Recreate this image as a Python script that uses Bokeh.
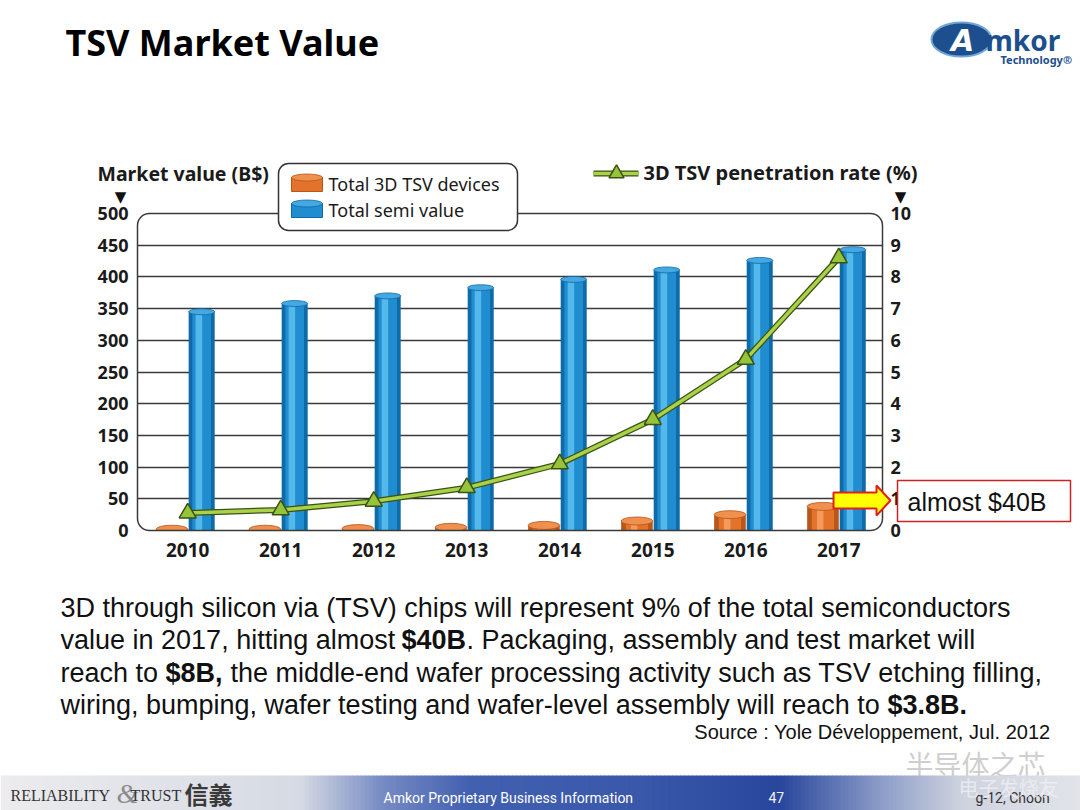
from bokeh.plotting import figure
from bokeh.models import Range1d, LinearAxis, FixedTicker, ColumnDataSource
from bokeh.transform import dodge
from bokeh.core.properties import value
from bokeh.embed import file_html
from bokeh.resources import INLINE

# ---------------- data ----------------
years = [2010, 2011, 2012, 2013, 2014, 2015, 2016, 2017]
semi_value = [345, 358, 370, 383, 396, 411, 426, 443]          # Total semi value (B$)
tsv_devices = [2, 2, 3, 5, 8, 15, 25, 38]                      # Total 3D TSV devices (B$)
penetration = [0.55, 0.65, 0.92, 1.35, 2.1, 3.5, 5.4, 8.6]     # 3D TSV penetration rate (%)
left_ticks = [0, 50, 100, 150, 200, 250, 300, 350, 400, 450, 500]
right_ticks = [0, 1, 2, 3, 4, 5, 6, 7, 8, 9, 10]
series_names = ["Total 3D TSV devices", "Total semi value"]
line_name = "3D TSV penetration rate (%)"
left_title = "Market value (B$)"
callout_text = "almost $40B"

title_text = "TSV Market Value"
para_lines = [
    [("3D through silicon via (TSV) chips will represent 9% of the total semiconductors", "normal")],
    [("value in 2017, hitting almost", "normal"), ("$40B", "bold"),
     (". Packaging, assembly and test market will", "normal")],
    [("reach to", "normal"), ("$8B,", "bold"),
     ("the middle-end wafer processing activity such as TSV etching filling,", "normal")],
    [("wiring, bumping, wafer testing and wafer-level assembly will reach to", "normal"),
     ("$3.8B.", "bold")],
]
para_x = [[60], [60, 401, 466], [60, 165, 230], [60, 887]]
para_y = [607, 639, 672, 704]
source_text = "Source : Yole Développement, Jul. 2012"

W, H = 1080, 810
FRAME = dict(left=137, right=882, top=213, bottom=530)   # plot-area position on the page
CF = "Noto Sans"
ORANGE = ["#b9561a", "#e3722a", "#f39a5c", "#f0904e"]
BLUE = ["#0f6aa8", "#1f8dd0", "#55b8ea", "#46a8e0"]

# ---------------- chart (bottom layer) ----------------
src = ColumnDataSource(dict(year=years, semi=semi_value, tsv=tsv_devices, rate=penetration))

p = figure(width=W, height=H, x_range=Range1d(2009.46, 2017.47), y_range=Range1d(0, 500),
           output_backend="svg", toolbar_location=None,
           min_border_left=FRAME["left"], min_border_right=W - FRAME["right"],
           min_border_top=FRAME["top"], min_border_bottom=H - FRAME["bottom"])
p.extra_y_ranges = {"rate": Range1d(0, 10)}
p.outline_line_color = None
p.background_fill_color = "white"
p.border_fill_color = "white"

p.xgrid.visible = False
p.ygrid.ticker = FixedTicker(ticks=left_ticks[1:-1])
p.ygrid.grid_line_color = "#3a3a3a"
p.ygrid.grid_line_width = 1.3

p.xaxis.ticker = FixedTicker(ticks=years)
p.yaxis.ticker = FixedTicker(ticks=left_ticks)
ax_r = LinearAxis(y_range_name="rate", ticker=FixedTicker(ticks=right_ticks))
p.add_layout(ax_r, "right")
for ax in [p.xaxis[0], p.yaxis[0], ax_r]:
    ax.axis_line_color = None
    ax.major_tick_line_color = None
    ax.minor_tick_line_color = None
    ax.major_label_text_font = CF
    ax.major_label_text_font_style = "bold"
    ax.major_label_text_font_size = "18px"
    ax.major_label_text_color = "#1a1a1a"
p.yaxis[0].major_label_standoff = 3
ax_r.major_label_standoff = 2
p.xaxis[0].major_label_standoff = 6
p.xaxis[0].major_label_text_font_size = "19px"

# orange cylinders (Total 3D TSV devices)
ox = dodge("year", -0.17, range=p.x_range)
p.ellipse(x=ox, y=0, width=0.34, height=8, height_units="screen", source=src,
          fill_color="#a9480f", line_color=None)
p.vbar(x=ox, top="tsv", bottom=0, width=0.34, source=src, fill_color=ORANGE[0], line_color=None)
p.vbar(x=ox, top="tsv", bottom=0, width=0.24, source=src, fill_color=ORANGE[1], line_color=None)
p.vbar(x=dodge("year", -0.2, range=p.x_range), top="tsv", bottom=0, width=0.07, source=src,
       fill_color=ORANGE[2], line_color=None)
p.ellipse(x=ox, y="tsv", width=0.34, height=8, height_units="screen", source=src,
          fill_color=ORANGE[3], line_color=ORANGE[0], line_width=0.8)

# blue cylinders (Total semi value)
bx = dodge("year", 0.15, range=p.x_range)
p.vbar(x=bx, top="semi", bottom=0, width=0.28, source=src, fill_color=BLUE[0], line_color=None)
p.vbar(x=bx, top="semi", bottom=0, width=0.2, source=src, fill_color=BLUE[1], line_color=None)
p.vbar(x=dodge("year", 0.12, range=p.x_range), top="semi", bottom=0, width=0.07, source=src,
       fill_color=BLUE[2], line_color=None)
p.ellipse(x=bx, y="semi", width=0.28, height=6, height_units="screen", source=src,
          fill_color=BLUE[3], line_color=BLUE[0], line_width=0.8)

# penetration rate line
p.line(x="year", y="rate", y_range_name="rate", source=src, line_color="#3b5214", line_width=6)
p.line(x="year", y="rate", y_range_name="rate", source=src, line_color="#a9d149", line_width=3.5)
p.scatter(x="year", y="rate", y_range_name="rate", source=src, marker="triangle",
          size=17, fill_color="#95c43a", line_color="#3b5214", line_width=1.5)

# ---------------- slide overlay (top layer, page pixel coordinates) ----------------
d = figure(width=W, height=H, x_range=Range1d(0, W), y_range=Range1d(H, 0),
           output_backend="svg", toolbar_location=None, min_border=0,
           x_axis_type=None, y_axis_type=None,
           styles={"position": "absolute", "left": "0px", "top": "0px"})
d.outline_line_color = None
d.background_fill_alpha = 0
d.border_fill_alpha = 0


def txt(x, y, s, font="Noto Sans", size="18px", style="normal", color="#1a1a1a",
        align="left", baseline="middle", alpha=1.0):
    d.text(x=[x], y=[y], text=[s], text_font=value(font), text_font_style=style,
           text_font_size=size, text_color=color, text_align=align, text_baseline=baseline,
           text_alpha=alpha)


# rounded plot-area outline
d.quad(left=[FRAME["left"]], right=[FRAME["right"]], top=[FRAME["top"]], bottom=[FRAME["bottom"]],
       fill_alpha=0, line_color="#3a3a3a", line_width=1.5, border_radius=12)

# title
txt(65, 42, title_text, size="36px", style="bold", color="#000000")
# Amkor logo
d.ellipse(x=[961], y=[39], width=60, height=34, fill_color="#1d4f8f",
          line_color="#6fa6d6", line_width=2)
txt(962, 40, "A", font="DejaVu Sans", size="30px", style="bold italic", color="white", align="center")
txt(985, 39, "mkor", size="28px", style="bold", color="#1d4f8f")
txt(1000, 59, "Technology®", size="11px", style="bold", color="#1d4f8f")

# axis title and arrow marks
txt(97, 173, left_title, size="19.5px", style="bold")
for mx in [120, 900]:
    txt(mx, 196, "▼", font="DejaVu Sans", size="15px", color="#111111", align="center")

# bar legend box
d.quad(left=[278], right=[517], top=[163], bottom=[230], fill_color="white",
       line_color="#333333", line_width=1.5, border_radius=10)
for i, (nm, cols) in enumerate(zip(series_names, [ORANGE, BLUE])):
    yc = 183 + 26 * i
    d.quad(left=[291], right=[322], top=[yc - 6], bottom=[yc + 8], fill_color=cols[1],
           line_color=cols[0], line_width=1)
    d.ellipse(x=[306.5], y=[yc - 6], width=31, height=7, fill_color=cols[3],
              line_color=cols[0], line_width=0.8)
    txt(328, yc, nm, size="18px")

# line legend
d.line(x=[593, 638], y=[173, 173], line_color="#3b5214", line_width=6)
d.line(x=[593, 638], y=[173, 173], line_color="#a9d149", line_width=3.5)
d.scatter(x=[616], y=[173], marker="triangle", size=15, fill_color="#95c43a",
          line_color="#3b5214", line_width=1.5)
txt(643, 172, line_name, size="20px", style="bold")

# callout arrow and box
d.patch(x=[833, 876, 876, 890, 876, 876, 833], y=[492, 492, 485, 500, 515, 508, 508],
        fill_color="#ffff00", line_color="#e02020", line_width=2)
d.quad(left=[897], right=[1070], top=[480], bottom=[521], fill_color="white",
       line_color="#cc2222", line_width=1.5)
txt(907, 501, callout_text, font="Liberation Sans", size="25px", color="#111111")

# paragraph
for segs, xs, yy in zip(para_lines, para_x, para_y):
    for (s, style), xx in zip(segs, xs):
        txt(xx, yy, s, font="Liberation Sans", size="27px", style=style, color="#111111")
txt(1050, 731, source_text, font="Liberation Sans", size="20px", color="#111111", align="right")

# watermark
txt(905, 763, "半导体之芯", font="Noto Sans CJK SC", size="28px", color="#cfcfcf")

# footer gradient bar
stops = [(0, (236, 236, 238)), (300, (214, 218, 228)), (380, (120, 140, 196)),
         (470, (66, 96, 176)), (640, (58, 88, 170)), (780, (40, 70, 156)),
         (880, (140, 156, 200)), (960, (206, 210, 222)), (1080, (226, 228, 234))]


def grad_color(xp):
    for (x0, c0), (x1, c1) in zip(stops[:-1], stops[1:]):
        if x0 <= xp <= x1:
            t = (xp - x0) / (x1 - x0)
            c = [int(round(a + (bb - a) * t)) for a, bb in zip(c0, c1)]
            return "#%02x%02x%02x" % tuple(c)
    return "#%02x%02x%02x" % stops[-1][1]


gl = list(range(0, W, 4))
d.quad(left=gl, right=[g + 4.5 for g in gl], top=775, bottom=H,
       fill_color=[grad_color(g + 2) for g in gl], line_color=None)

txt(10, 795, "RELIABILITY", font="Liberation Serif", size="16px", color="#333333")
txt(116, 793, "&", font="Liberation Serif", size="28px", style="italic", color="#8a8a8a")
txt(130, 795, "TRUST", font="Liberation Serif", size="16px", color="#333333")
txt(184, 793, "信義", font="Noto Sans CJK TC", size="24px", style="bold", color="#3a3a3a")
txt(383, 797, "Amkor Proprietary Business Information", font="Roboto", size="14px", color="white")
txt(768, 797, "47", font="Roboto", size="14px", color="#f0f0f0")
txt(975, 797, "g-12, Choon", font="Roboto", size="14px", color="#333333")
txt(958, 787, "电子发烧友", font="Noto Sans CJK SC", size="20px", color="#eef0f4", alpha=0.8)

open("out.html", "w").write(file_html([p, d], INLINE))
